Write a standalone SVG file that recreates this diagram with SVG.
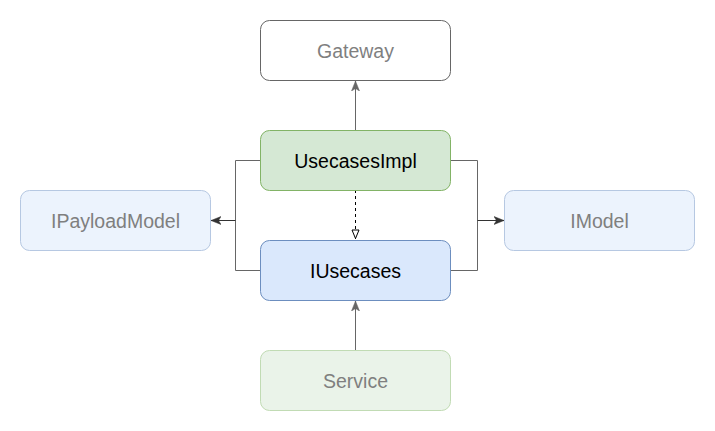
<svg xmlns="http://www.w3.org/2000/svg" width="715" height="431" viewBox="0 0 715 431">
<defs>
<style>
.lbl{font-family:"Liberation Sans",Arial,sans-serif;font-size:19.5px;text-anchor:middle;dominant-baseline:central}
.g{fill:#7f7f7f}
.k{fill:#000}
.ln{fill:none;stroke:#666;stroke-width:1}
.dk{fill:none;stroke:#333;stroke-width:1}
</style>
<marker id="arr" viewBox="0 0 10 10" refX="10" refY="5" markerWidth="10" markerHeight="10" markerUnits="userSpaceOnUse" orient="auto">
<path d="M0,1 L10,5 L0,9 L2.5,5 Z" fill="#333" stroke="#333" stroke-width="0.5"/>
</marker>
<marker id="arrg" viewBox="0 0 10 10" refX="10" refY="5" markerWidth="10" markerHeight="10" markerUnits="userSpaceOnUse" orient="auto">
<path d="M0,1 L10,5 L0,9 L2.5,5 Z" fill="#666" stroke="#666" stroke-width="0.5"/>
</marker>
<marker id="tri" viewBox="0 0 10 10" refX="10" refY="5" markerWidth="10" markerHeight="10" markerUnits="userSpaceOnUse" orient="auto">
<path d="M1,1.5 L9.5,5 L1,8.5 Z" fill="#fff" stroke="#000" stroke-width="1"/>
</marker>
</defs>
<g id="connectors">
<path class="ln" d="M355.5,130 V81" marker-end="url(#arrg)"/>
<path class="ln" d="M260,160.5 H235.5 V270.5 H260"/>
<path class="dk" d="M235.5,220.5 H211" marker-end="url(#arr)"/>
<path class="ln" d="M450,160.5 H477.5 V270.5 H450"/>
<path class="dk" d="M477.5,220.5 H504" marker-end="url(#arr)"/>
<path d="M355.5,190 V239" fill="none" stroke="#000" stroke-width="1" stroke-dasharray="3 3" marker-end="url(#tri)"/>
<path class="ln" d="M355.5,350 V301" marker-end="url(#arrg)"/>
</g>
<g id="gateway">
<rect x="260.5" y="20.5" width="190" height="60" rx="9" fill="#fff" stroke="#666"/>
<text class="lbl g" x="355.5" y="50.5">Gateway</text>
</g>
<g id="usecasesimpl">
<rect x="260.5" y="130.5" width="190" height="60" rx="9" fill="#d5e8d4" stroke="#82b366"/>
<text class="lbl k" x="355.5" y="160.5">UsecasesImpl</text>
</g>
<g id="iusecases">
<rect x="260.5" y="240.5" width="190" height="60" rx="9" fill="#dae8fc" stroke="#6c8ebf"/>
<text class="lbl k" x="355.5" y="270.5">IUsecases</text>
</g>
<g id="service">
<rect x="260.5" y="350.5" width="190" height="60" rx="9" fill="#eaf3e9" stroke="#c1dbb4"/>
<text class="lbl g" x="355.5" y="380.5">Service</text>
</g>
<g id="ipayloadmodel">
<rect x="20.5" y="190.5" width="190" height="60" rx="9" fill="#ecf3fd" stroke="#b6c8e2"/>
<text class="lbl g" x="115.5" y="220.5">IPayloadModel</text>
</g>
<g id="imodel">
<rect x="504.5" y="190.5" width="190" height="60" rx="9" fill="#ecf3fd" stroke="#b6c8e2"/>
<text class="lbl g" x="599.5" y="220.5">IModel</text>
</g>
</svg>
